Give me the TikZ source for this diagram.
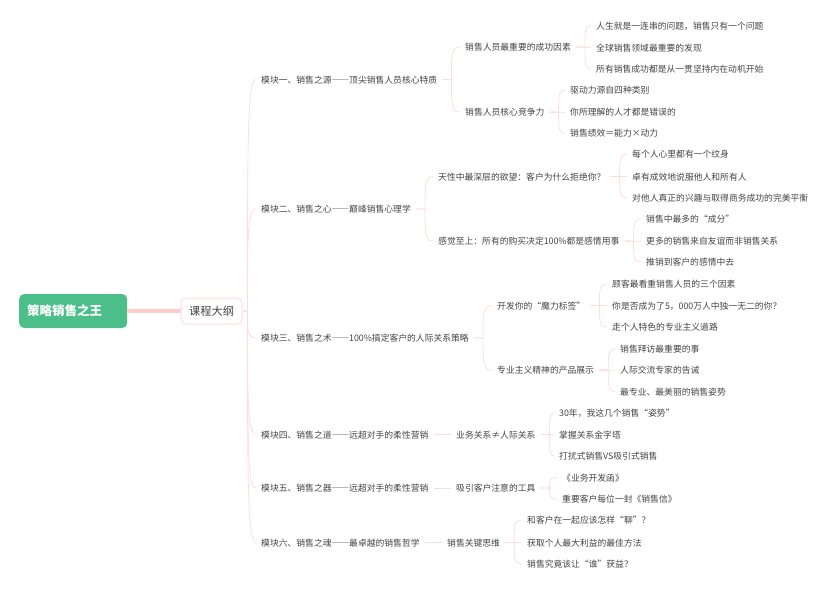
\documentclass[tikz,border=0pt]{standalone}
\usepackage{fontspec}
\setmainfont[Script=CJK,Language=Chinese Simplified]{Noto Sans CJK SC}
\usetikzlibrary{calc}
\definecolor{rootgreen}{HTML}{4CBE8A}
\definecolor{linkpink}{HTML}{FFDCDC}
\definecolor{rootlink}{HTML}{FFCCCC}
\definecolor{textgray}{HTML}{444444}

\tikzstyle{topic} = [anchor=west,inner xsep=5,inner ysep=1,text=textgray,text height=9,text depth=1.2,font=\fontsize{8.8}{10}\selectfont]
\tikzstyle{link} = [draw=linkpink,line width=0.8pt]
\tikzset{bracket/.style={link,to path={(\tikztostart) -- ++(#1,0) coordinate (j) .. controls ($(j)!.75!(j |- \tikztotarget)$) and (j |- \tikztotarget) .. (\tikztotarget)}},bracket/.default=9}

\begin{document}
\begin{tikzpicture}[x=1pt,y=-1pt]
	\useasboundingbox (0,0) rectangle (833,590);
	\node[anchor=west,fill=rootgreen,rounded corners=5,text=white,text width=92,inner xsep=8,minimum height=34,text height=11,text depth=1.5,font=\fontsize{12.5}{14}\selectfont\bfseries] (root) at (19,311) {策略销售之王};
	\draw[draw=rootlink,line width=4.5pt] (root) -- (211.5,311) coordinate (rootend);
	\node[draw=linkpink,line width=1pt,fill=white,rounded corners=5,minimum width=61,minimum height=26,inner sep=1,text=textgray,text height=10.5,text depth=1.5,font=\fontsize{11.25}{13}\selectfont] (outline) at (rootend) {课程大纲};

	\node[topic] (m1) at (256,79.5) {模块一、销售之源——顶尖销售人员核心特质};
	\node[topic] (m2) at (256,209) {模块二、销售之心——巅峰销售心理学};
	\node[topic] (m3) at (256,338) {模块三、销售之术——100\%搞定客户的人际关系策略};
	\node[topic] (m4) at (256,434.5) {模块四、销售之道——远超对手的柔性营销};
	\node[topic] (m5) at (256,488) {模块五、销售之器——远超对手的柔性营销};
	\node[topic] (m6) at (256,542.5) {模块六、销售之魂——最卓越的销售哲学};

	\node[topic] (c11) at (460,47) {销售人员最重要的成功因素};
	\node[topic] (c12) at (460,112) {销售人员核心竞争力};
	\node[topic] (c21) at (433,176.5) {天性中最深层的欲望：客户为什么拒绝你？};
	\node[topic] (c22) at (433,241) {感觉至上：所有的购买决定100\%都是感情用事};
	\node[topic] (c31) at (492,305.5) {开发你的“魔力标签”};
	\node[topic] (c32) at (492,370) {专业主义精神的产品展示};
	\node[topic] (c41) at (451,434.5) {业务关系≠人际关系};
	\node[topic] (c51) at (451,488) {吸引客户注意的工具};
	\node[topic] (c61) at (442,542.5) {销售关键思维};

	\node[topic] (l1) at (591,25.5) {人生就是一连串的问题，销售只有一个问题};
	\node[topic] (l2) at (591,47.5) {全球销售领域最重要的发现};
	\node[topic] (l3) at (591,69) {所有销售成功都是从一贯坚持内在动机开始};
	\node[topic] (l4) at (565,90) {驱动力源自四种类别};
	\node[topic] (l5) at (565,112) {你所理解的人才都是错误的};
	\node[topic] (l6) at (565,133) {销售绩效＝能力×动力};
	\node[topic] (l7) at (627,154) {每个人心里都有一个纹身};
	\node[topic] (l8) at (627,176.5) {卓有成效地说服他人和所有人};
	\node[topic] (l9) at (627,198) {对他人真正的兴趣与取得商务成功的完美平衡};
	\node[topic] (l10) at (641,219) {销售中最多的“成分”};
	\node[topic] (l11) at (641,241) {更多的销售来自友谊而非销售关系};
	\node[topic] (l12) at (641,262) {推销到客户的感情中去};
	\node[topic] (l13) at (607,284) {顾客最看重销售人员的三个因素};
	\node[topic] (l14) at (607,305.5) {你是否成为了5，000万人中独一无二的你？};
	\node[topic] (l15) at (607,327) {走个人特色的专业主义道路};
	\node[topic] (l16) at (615,349) {销售拜访最重要的事};
	\node[topic] (l17) at (615,370) {人际交流专家的告诫};
	\node[topic] (l18) at (615,391.5) {最专业、最美丽的销售姿势};
	\node[topic] (l19) at (554,413) {30年，我这几个销售“姿势”};
	\node[topic] (l20) at (554,434.5) {掌握关系金字塔};
	\node[topic] (l21) at (554,456) {打扰式销售VS吸引式销售};
	\node[topic] (l22) at (557,477.5) {《业务开发函》};
	\node[topic] (l23) at (557,499) {重要客户每位一封《销售信》};
	\node[topic] (l24) at (522,520) {和客户在一起应该怎样“聊”？};
	\node[topic] (l25) at (522,542.5) {获取个人最大利益的最佳方法};
	\node[topic] (l26) at (522,564) {销售究竟该让“谁”获益？};

	\draw[bracket=5] (outline.east) to (m1.west);
	\draw[bracket=5] (outline.east) to (m2.west);
	\draw[bracket=5] (outline.east) to (m3.west);
	\draw[bracket=5] (outline.east) to (m4.west);
	\draw[bracket=5] (outline.east) to (m5.west);
	\draw[bracket=5] (outline.east) to (m6.west);

	\draw[bracket] (m1.east) to (c11.west);
	\draw[bracket] (m1.east) to (c12.west);
	\draw[bracket] (m2.east) to (c21.west);
	\draw[bracket] (m2.east) to (c22.west);
	\draw[bracket] (m3.east) to (c31.west);
	\draw[bracket] (m3.east) to (c32.west);
	\draw[link] (m4.east) -- (c41.west);
	\draw[link] (m5.east) -- (c51.west);
	\draw[link] (m6.east) -- (c61.west);

	\draw[bracket] (c11.east) to (l1.west);
	\draw[bracket] (c11.east) to (l2.west);
	\draw[bracket] (c11.east) to (l3.west);
	\draw[bracket] (c12.east) to (l4.west);
	\draw[bracket] (c12.east) to (l5.west);
	\draw[bracket] (c12.east) to (l6.west);
	\draw[bracket] (c21.east) to (l7.west);
	\draw[bracket] (c21.east) to (l8.west);
	\draw[bracket] (c21.east) to (l9.west);
	\draw[bracket] (c22.east) to (l10.west);
	\draw[bracket] (c22.east) to (l11.west);
	\draw[bracket] (c22.east) to (l12.west);
	\draw[bracket] (c31.east) to (l13.west);
	\draw[bracket] (c31.east) to (l14.west);
	\draw[bracket] (c31.east) to (l15.west);
	\draw[bracket] (c32.east) to (l16.west);
	\draw[bracket] (c32.east) to (l17.west);
	\draw[bracket] (c32.east) to (l18.west);
	\draw[bracket] (c41.east) to (l19.west);
	\draw[bracket] (c41.east) to (l20.west);
	\draw[bracket] (c41.east) to (l21.west);
	\draw[bracket] (c51.east) to (l22.west);
	\draw[bracket] (c51.east) to (l23.west);
	\draw[bracket] (c61.east) to (l24.west);
	\draw[bracket] (c61.east) to (l25.west);
	\draw[bracket] (c61.east) to (l26.west);
\end{tikzpicture}
\end{document}
